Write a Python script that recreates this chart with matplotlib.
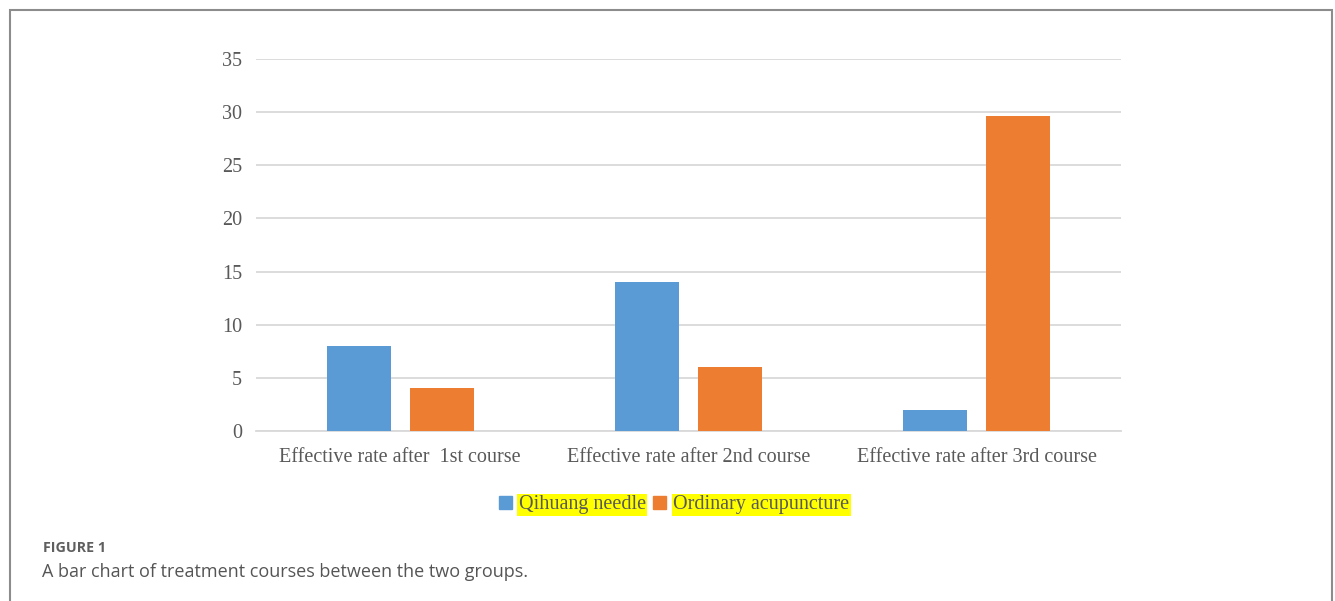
import matplotlib
matplotlib.use("Agg")
import matplotlib.pyplot as plt
from matplotlib.patches import Rectangle, Patch
import numpy as np

categories = ["Effective rate after  1st course", "Effective rate after 2nd course", "Effective rate after 3rd course"]
series_names = ["Qihuang needle", "Ordinary acupuncture"]
qihuang = [8, 14, 2]
ordinary = [4, 6, 29.6]
yticks = [0, 5, 10, 15, 20, 25, 30, 35]

blue = "#5B9BD5"
orange = "#ED7D31"
txt = "#595959"

fig = plt.figure(figsize=(13.35, 6.01), dpi=100)
W, H = 1335, 601
ax = fig.add_axes([256 / W, 1 - 431 / H, (1121 - 256) / W, (431 - 59) / H])

x = np.arange(len(categories))
bw = 0.222
off = 0.144
ax.bar(x - off, qihuang, bw, color=blue, label=series_names[0], zorder=3)
ax.bar(x + off, ordinary, bw, color=orange, label=series_names[1], zorder=3)

ax.set_xlim(-0.5, 2.5)
ax.set_ylim(0, 35)
ax.set_yticks(yticks)
ax.set_yticklabels([str(v) for v in yticks])
ax.set_xticks(x)
ax.set_xticklabels(categories)
ax.yaxis.grid(True, color="#d9d9d9", linewidth=1.3, zorder=0)
ax.set_axisbelow(True)
for s in ["top", "right", "left"]:
    ax.spines[s].set_visible(False)
ax.spines["bottom"].set_color("#d9d9d9")
ax.spines["bottom"].set_linewidth(1.3)
ax.tick_params(axis="both", length=0, labelcolor=txt, labelsize=14.5)
ax.tick_params(axis="y", pad=10)
ax.tick_params(axis="x", pad=12)
for lab in ax.get_xticklabels() + ax.get_yticklabels():
    lab.set_family("Liberation Serif")

handles = [Patch(color=blue), Patch(color=orange)]
leg = fig.legend(handles, series_names, loc="center", bbox_to_anchor=(674 / W, 1 - 505 / H),
                 ncol=2, frameon=False, handlelength=0.65, handleheight=0.65, handletextpad=0.35,
                 columnspacing=0.35, prop={"family": "Liberation Serif", "size": 14.5})
for t in leg.get_texts():
    t.set_color(txt)
    t.set_bbox(dict(facecolor="#FFFF00", edgecolor="none", pad=1.0))

# outer frame
fig.patches.append(Rectangle((10 / W, -0.05), (1332 - 10) / W, 1.05 - 10 / H, transform=fig.transFigure,
                             fill=False, edgecolor="#8c8c8c", linewidth=1.5))

fig.text(43 / W, 1 - 548 / H, "FIGURE 1", family="Open Sans", fontsize=10.3, fontweight="bold",
         color="#5f5f5f", va="center", ha="left")
fig.text(42 / W, 1 - 572 / H, "A bar chart of treatment courses between the two groups.", family="Open Sans",
         fontsize=13, color="#555555", va="center", ha="left")

fig.savefig("out.png", dpi=100)
